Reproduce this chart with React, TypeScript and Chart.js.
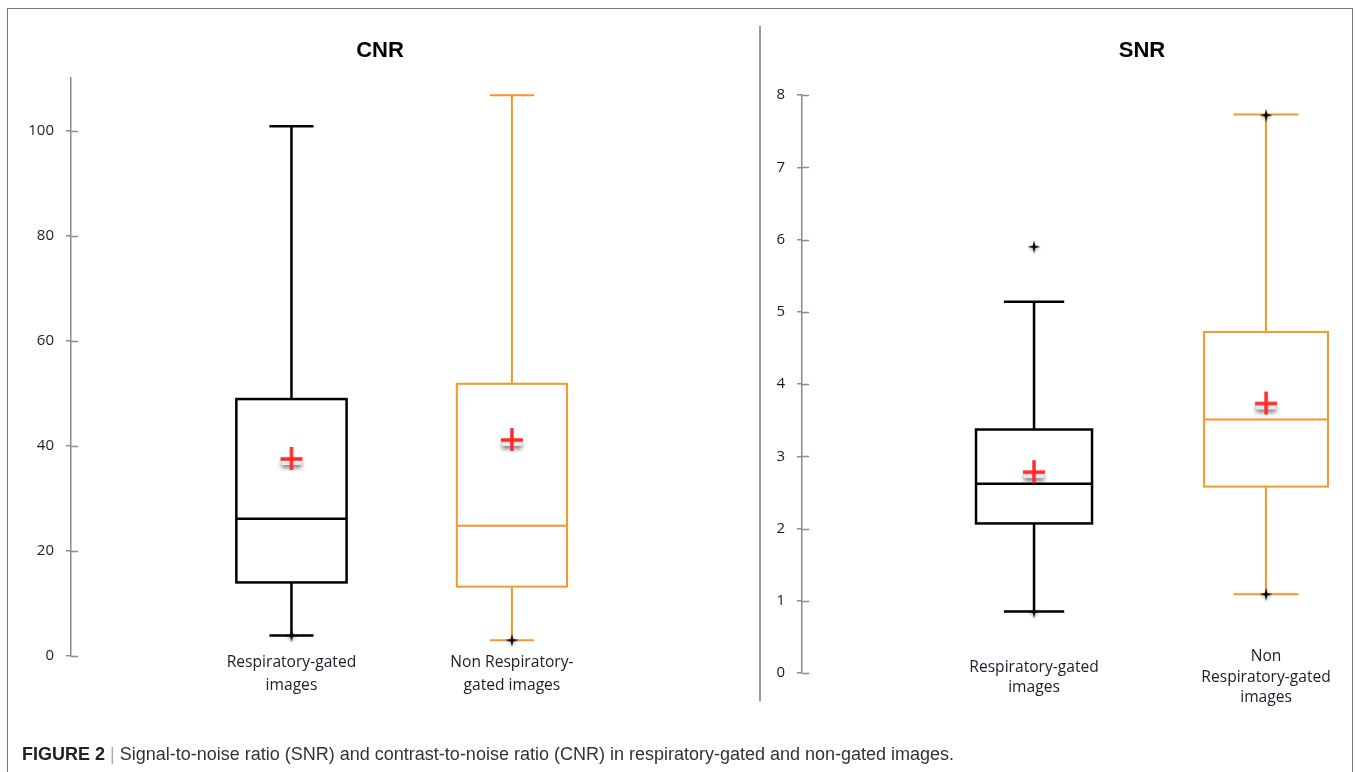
import React, { useEffect, useRef } from "react";
import { Chart, registerables } from "chart.js";

Chart.register(...registerables);

// ---------------- DATA ----------------
const cnrTitle = "CNR";
const cnrCategories = [["Respiratory-gated", "images"], ["Non Respiratory-", "gated images"]];
const cnrMin = [3.9, 3.0];
const cnrQ1 = [14.0, 13.2];
const cnrMedian = [26.1, 24.8];
const cnrQ3 = [48.9, 51.8];
const cnrMax = [100.8, 106.7];
const cnrMean = [37.5, 41.1];
const cnrMarked = [[3.9], [3.0]];
const cnrAxisMax = 110;
const cnrTickStep = 20;

const snrTitle = "SNR";
const snrCategories = [["Respiratory-gated", "images"], ["Non", "Respiratory-gated", "images"]];
const snrMin = [0.85, 1.09];
const snrQ1 = [2.07, 2.58];
const snrMedian = [2.62, 3.51];
const snrQ3 = [3.37, 4.72];
const snrMax = [5.14, 7.73];
const snrMean = [2.78, 3.73];
const snrMarked = [[0.85, 5.9], [1.09, 7.72]];
const snrAxisMax = 8;
const snrTickStep = 1;

const seriesColors = ["#000000", "#F7962B"];
const captionBold = "FIGURE 2";
const captionText =
  "Signal-to-noise ratio (SNR) and contrast-to-noise ratio (CNR) in respiratory-gated and non-gated images.";

// ---------------- MARKERS ----------------
function makeMeanMarker(): HTMLCanvasElement {
  const c = document.createElement("canvas");
  c.width = 32;
  c.height = 34;
  const g = c.getContext("2d")!;
  g.save();
  g.shadowColor = "rgba(0,0,0,0.5)";
  g.shadowBlur = 4;
  g.shadowOffsetY = 3;
  g.fillStyle = "rgba(232,232,232,1)";
  g.fillRect(6, 16, 20, 7);
  g.restore();
  g.strokeStyle = "#FF2A2A";
  g.lineWidth = 3.5;
  g.beginPath();
  g.moveTo(16, 5);
  g.lineTo(16, 28);
  g.moveTo(5, 17);
  g.lineTo(27, 17);
  g.stroke();
  return c;
}

function makeStar(): HTMLCanvasElement {
  const c = document.createElement("canvas");
  c.width = 18;
  c.height = 18;
  const g = c.getContext("2d")!;
  g.shadowColor = "rgba(0,0,0,0.3)";
  g.shadowBlur = 3;
  g.shadowOffsetY = 2;
  g.fillStyle = "#000";
  const cx = 9, cy = 9, R = 6.5, r = 1.7;
  g.beginPath();
  for (let k = 0; k < 8; k++) {
    const ang = (k * Math.PI) / 4 - Math.PI / 2;
    const rad = k % 2 === 0 ? R : r;
    g.lineTo(cx + rad * Math.cos(ang), cy + rad * Math.sin(ang));
  }
  g.closePath();
  g.fill();
  return c;
}

// ---------------- CONFIG ----------------
type BoxParams = {
  title: string;
  categories: string[][];
  min: number[];
  q1: number[];
  median: number[];
  q3: number[];
  max: number[];
  mean: number[];
  marked: number[][];
  yMax: number;
  yStep: number;
  yAxisWidth: number;
  xMax: number;
  titlePadTop: number;
  titlePadBottom: number;
  xScaleHeight: number;
  xLabelPad: number;
  xLineHeight: number;
  boxHalf: number[];
  capHalf: number[];
  lineWidths: number[];
};

function buildConfig(p: BoxParams): any {
  const meanImg = makeMeanMarker();
  const starImg = makeStar();

  const boxPlugin = {
    id: "boxes",
    beforeDatasetsDraw(chart: any) {
      const { ctx, scales } = chart;
      const x = scales.x;
      const y = scales.y;
      p.categories.forEach((_, i) => {
        const cx = x.getPixelForValue(i + 1);
        const bw = x.getPixelForValue(i + 1 + p.boxHalf[i]) - cx;
        const cw = x.getPixelForValue(i + 1 + p.capHalf[i]) - cx;
        const yMin = y.getPixelForValue(p.min[i]);
        const yQ1 = y.getPixelForValue(p.q1[i]);
        const yMed = y.getPixelForValue(p.median[i]);
        const yQ3 = y.getPixelForValue(p.q3[i]);
        const yMax = y.getPixelForValue(p.max[i]);
        ctx.save();
        ctx.strokeStyle = seriesColors[i];
        ctx.lineWidth = p.lineWidths[i];
        ctx.lineJoin = "miter";
        ctx.beginPath();
        ctx.moveTo(cx, yQ1);
        ctx.lineTo(cx, yMin);
        ctx.moveTo(cx - cw, yMin);
        ctx.lineTo(cx + cw, yMin);
        ctx.moveTo(cx, yQ3);
        ctx.lineTo(cx, yMax);
        ctx.moveTo(cx - cw, yMax);
        ctx.lineTo(cx + cw, yMax);
        ctx.moveTo(cx - bw, yMed);
        ctx.lineTo(cx + bw, yMed);
        ctx.stroke();
        ctx.strokeRect(cx - bw, yQ3, 2 * bw, yQ1 - yQ3);
        ctx.restore();
      });
      // inner part of the axis tick marks
      ctx.save();
      ctx.strokeStyle = "#8c8c8c";
      ctx.lineWidth = 1.5;
      const ax = chart.chartArea.left;
      y.ticks.forEach((t: any) => {
        const py = Math.round(y.getPixelForValue(t.value)) + 0.5;
        ctx.beginPath();
        ctx.moveTo(ax, py);
        ctx.lineTo(ax + 7, py);
        ctx.stroke();
      });
      ctx.restore();
    },
  };

  const markedData: { x: number; y: number }[] = [];
  p.marked.forEach((arr, i) => arr.forEach((v) => markedData.push({ x: i + 1, y: v })));

  return {
    type: "scatter",
    data: {
      datasets: [
        {
          label: "marked",
          data: markedData,
          pointStyle: starImg,
          pointRadius: 7,
          showLine: false,
        },
        {
          label: "mean",
          data: p.mean.map((m, i) => ({ x: i + 1, y: m })),
          pointStyle: meanImg,
          pointRadius: 12,
          showLine: false,
        },
      ],
    },
    options: {
      responsive: false,
      animation: false,
      devicePixelRatio: 1,
      layout: { padding: 0 },
      plugins: {
        legend: { display: false },
        tooltip: { enabled: false },
        title: {
          display: true,
          text: p.title,
          color: "#000",
          font: { family: "'Liberation Sans', Arial, sans-serif", size: 22, weight: "bold", lineHeight: 1.2 },
          padding: { top: p.titlePadTop, bottom: p.titlePadBottom },
        },
      },
      scales: {
        x: {
          type: "linear",
          min: 0,
          max: p.xMax,
          afterBuildTicks: (s: any) => {
            s.ticks = p.categories.map((_, i) => ({ value: i + 1 }));
          },
          afterFit: (s: any) => {
            s.height = p.xScaleHeight;
            // let the category labels rise slightly above the axis baseline (no clipping)
            s._computeLabelArea = () => undefined;
          },
          grid: { display: false, drawTicks: false },
          border: { display: false },
          ticks: {
            autoSkip: false,
            maxRotation: 0,
            minRotation: 0,
            crossAlign: "center",
            padding: p.xLabelPad,
            color: "#1c1c2a",
            font: { family: "'Open Sans', sans-serif", size: 15.6, lineHeight: p.xLineHeight },
            callback: (v: any) => p.categories[Math.round(v) - 1] ?? "",
          },
        },
        y: {
          type: "linear",
          min: 0,
          max: p.yMax,
          afterFit: (s: any) => {
            s.width = p.yAxisWidth;
          },
          grid: { drawOnChartArea: false, drawTicks: true, tickLength: 5, color: "#8c8c8c", lineWidth: 1.5 },
          border: { display: true, color: "#8c8c8c", width: 1.5 },
          ticks: {
            stepSize: p.yStep,
            includeBounds: false,
            padding: 12,
            color: "#1c1c2a",
            font: { family: "'Open Sans', sans-serif", size: 15 },
          },
        },
      },
    },
    plugins: [boxPlugin],
  };
}

function BoxChart(props: { params: BoxParams; left: number; top: number; width: number; height: number }) {
  const ref = useRef<HTMLCanvasElement>(null);
  useEffect(() => {
    const chart = new Chart(ref.current!, buildConfig(props.params));
    return () => chart.destroy();
  }, []);
  return (
    <canvas
      ref={ref}
      width={props.width}
      height={props.height}
      style={{ position: "absolute", left: props.left, top: props.top, width: props.width, height: props.height }}
    />
  );
}

const cnrParams: BoxParams = {
  title: cnrTitle,
  categories: cnrCategories,
  min: cnrMin,
  q1: cnrQ1,
  median: cnrMedian,
  q3: cnrQ3,
  max: cnrMax,
  mean: cnrMean,
  marked: cnrMarked,
  yMax: cnrAxisMax,
  yStep: cnrTickStep,
  yAxisWidth: 63,
  xMax: 3.03,
  titlePadTop: 38,
  titlePadBottom: 13.6,
  xScaleHeight: 64,
  xLabelPad: 6.5,
  xLineHeight: 1.47,
  boxHalf: [0.25, 0.25],
  capHalf: [0.1, 0.1],
  lineWidths: [2.5, 2],
};

const snrParams: BoxParams = {
  title: snrTitle,
  categories: snrCategories,
  min: snrMin,
  q1: snrQ1,
  median: snrMedian,
  q3: snrQ3,
  max: snrMax,
  mean: snrMean,
  marked: snrMarked,
  yMax: snrAxisMax,
  yStep: snrTickStep,
  yAxisWidth: 40,
  xMax: 3.047,
  titlePadTop: 38,
  titlePadBottom: 30.6,
  xScaleHeight: 47,
  xLabelPad: -16,
  xLineHeight: 1.3,
  boxHalf: [0.25, 0.267],
  capHalf: [0.13, 0.14],
  lineWidths: [2.5, 2],
};

export default function App() {
  return (
    <div style={{ position: "relative", width: 1356, height: 772, overflow: "hidden", background: "#fff" }}>
      <style>{"html,body{margin:0;padding:0;overflow:hidden;background:#fff}"}</style>
      <BoxChart params={cnrParams} left={8} top={0} width={744} height={720} />
      <BoxChart params={snrParams} left={762} top={0} width={760} height={720} />
      <div
        style={{
          position: "absolute",
          left: 7,
          top: 8,
          width: 1346,
          height: 900,
          border: "1.5px solid #777",
          boxSizing: "border-box",
          pointerEvents: "none",
        }}
      />
      <div style={{ position: "absolute", left: 759, top: 26, width: 2, height: 675, background: "#9a9a9a" }} />
      <div
        style={{
          position: "absolute",
          left: 22,
          top: 744,
          fontFamily: "'Liberation Sans Narrow', 'Liberation Sans', Arial, sans-serif",
          fontSize: 18,
          lineHeight: "20px",
          color: "#333",
          whiteSpace: "nowrap",
        }}
      >
        <b style={{ color: "#222" }}>{captionBold}</b> <span style={{ color: "#aaa" }}>|</span> {captionText}
      </div>
    </div>
  );
}
